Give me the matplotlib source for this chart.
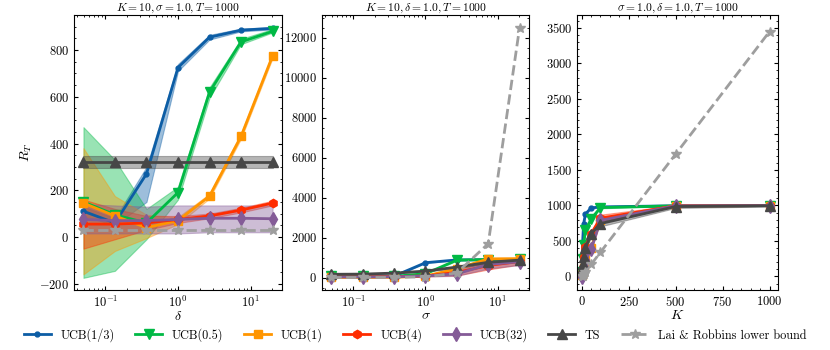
import numpy as np
import matplotlib
matplotlib.use("Agg")
import matplotlib.pyplot as plt

plt.rcParams['font.family'] = 'serif'
plt.rcParams['font.serif'] = ['cmr10', 'DejaVu Serif']
plt.rcParams['mathtext.fontset'] = 'cm'
plt.rcParams['axes.formatter.use_mathtext'] = True
plt.rcParams['font.size'] = 9
plt.rcParams['axes.unicode_minus'] = True

names = ["UCB(1/3)", "UCB(0.5)", "UCB(1)", "UCB(4)", "UCB(32)", "TS", "Lai & Robbins lower bound"]
colors = ['#0C5DA5', '#00B945', '#FF9500', '#FF2C00', '#845B97', '#474747', '#9e9e9e']
markers = ['.', 'v', 's', 'h', 'd', '^', '*']
msizes = [7, 7, 6, 6, 7, 7, 7]

# panel 1 : regret vs delta
delta = [0.0498, 0.135, 0.368, 1.0, 2.718, 7.389, 20.09]
d_mean = [
    [110, 60, 270, 725, 855, 885, 893],
    [150, 95, 60, 190, 620, 835, 880],
    [145, 90, 40, 70, 175, 430, 775],
    [55, 55, 60, 75, 90, 115, 145],
    [75, 70, 70, 75, 80, 80, 78],
    [320, 320, 320, 320, 320, 320, 320],
    [31, 31, 31, 31, 31, 31, 31],
]
d_lo = [
    [90, 50, 150, 710, 845, 880, 888],
    [-175, -145, -10, 160, 595, 825, 875],
    [-160, -60, -5, 55, 165, 420, 765],
    [-50, -10, 30, 60, 80, 105, 135],
    [15, 15, 15, 15, 20, 20, 20],
    [295, 295, 295, 295, 295, 295, 295],
    None,
]
d_hi = [
    [130, 80, 300, 740, 865, 892, 898],
    [470, 330, 120, 215, 640, 848, 890],
    [380, 175, 95, 85, 185, 445, 785],
    [160, 120, 90, 90, 100, 125, 155],
    [140, 135, 130, 135, 135, 135, 135],
    [345, 345, 345, 345, 345, 345, 345],
    None,
]

# panel 2 : regret vs sigma
sigma = [0.0498, 0.135, 0.368, 1.0, 2.718, 7.389, 20.09]
s_mean = [
    [60, 60, 70, 740, 880, 890, 895],
    [60, 60, 60, 190, 870, 900, 905],
    [10, 10, 15, 70, 440, 930, 940],
    [40, 40, 45, 75, 250, 600, 800],
    [30, 30, 35, 75, 180, 650, 790],
    [160, 170, 220, 320, 520, 760, 870],
    [0.08, 0.57, 4.2, 31, 229, 1690, 12500],
]
s_lo = [
    [40, 40, 50, 720, 860, 880, 885],
    [40, 40, 40, 160, 840, 880, 890],
    [0, 0, 0, 50, 380, 880, 880],
    [20, 20, 25, 50, 100, 400, 650],
    [10, 10, 15, 50, 80, 450, 620],
    [140, 150, 200, 295, 460, 700, 820],
    None,
]
s_hi = [
    [80, 80, 90, 760, 900, 900, 905],
    [80, 80, 80, 220, 900, 920, 920],
    [25, 25, 30, 90, 500, 980, 1000],
    [60, 60, 65, 100, 450, 850, 1000],
    [50, 50, 55, 100, 330, 850, 960],
    [180, 190, 240, 345, 580, 820, 920],
    None,
]

# panel 3 : regret vs K
arms = [2, 5, 10, 20, 50, 100, 500, 1000]
k_mean = [
    [110, 490, 740, 880, 965, 980, 995, 998],
    [60, 250, 450, 650, 810, 970, 995, 998],
    [20, 60, 120, 230, 400, 800, 995, 998],
    [40, 120, 270, 420, 600, 820, 995, 998],
    [-10, 50, 130, 230, 380, 790, 995, 998],
    [100, 180, 270, 400, 600, 745, 985, 995],
    [3.45, 13.8, 31, 66, 169, 342, 1722, 3447],
]
k_lo = [
    [90, 470, 725, 870, 955, 972, 990, 995],
    [40, 230, 430, 630, 790, 960, 990, 995],
    [0, 40, 100, 210, 380, 780, 990, 995],
    [20, 100, 250, 400, 560, 780, 985, 995],
    [-30, 30, 110, 210, 360, 770, 985, 995],
    [80, 160, 250, 370, 560, 705, 965, 985],
    None,
]
k_hi = [
    [130, 510, 755, 890, 975, 988, 1000, 1000],
    [80, 270, 470, 670, 830, 980, 1000, 1000],
    [40, 80, 140, 250, 420, 820, 1000, 1000],
    [60, 140, 290, 440, 640, 870, 1005, 1000],
    [10, 70, 150, 250, 400, 810, 1005, 1000],
    [120, 200, 290, 430, 640, 785, 1005, 1005],
    None,
]

fig = plt.figure(figsize=(8.3, 3.5), dpi=100)
W, H = 830, 350
boxes = [(74, 282), (322, 529), (577, 778)]
axes = [fig.add_axes([l / W, 60 / H, (r - l) / W, 275 / H]) for l, r in boxes]

panels = [
    (delta, d_mean, d_lo, d_hi, r'$\delta$', r'$K=10, \sigma=1.0, T=1000$', True),
    (sigma, s_mean, s_lo, s_hi, r'$\sigma$', r'$K=10, \delta=1.0, T=1000$', True),
    (arms, k_mean, k_lo, k_hi, r'$K$', r'$\sigma=1.0, \delta=1.0, T=1000$', False),
]

for ax, (x, mean, lo, hi, xlab, title, logx) in zip(axes, panels):
    for i in range(7):
        if lo[i] is not None:
            ax.fill_between(x, lo[i], hi[i], color=colors[i], alpha=0.4, lw=0.8)
    for i in range(7):
        ls = '--' if i == 6 else '-'
        ax.plot(x, mean[i], ls, color=colors[i], marker=markers[i], ms=msizes[i],
                lw=2, label=names[i])
    if logx:
        ax.set_xscale('log')
    ax.set_xlabel(xlab, labelpad=0, fontsize=10)
    ax.set_title(title, fontsize=8.3, pad=3)
    ax.tick_params(which='both', direction='in', top=True, right=True)
    ax.tick_params(which='major', length=3)
    ax.tick_params(which='minor', length=1.5)
    ax.minorticks_on()

axes[0].set_ylabel(r'$R_T$', fontsize=10)
axes[0].set_ylim(-227, 950)
axes[0].set_yticks([-200, 0, 200, 400, 600, 800])
axes[1].set_yticks([0, 2000, 4000, 6000, 8000, 10000, 12000])
axes[2].set_xlim(-25, 1045)
axes[2].set_ylim(-190, 3680)

handles, labels = axes[0].get_legend_handles_labels()
fig.legend(handles, labels, loc='center', bbox_to_anchor=(0.5, 15 / H), ncol=7,
           frameon=False, fontsize=8.8, handlelength=2.2, handletextpad=0.8,
           columnspacing=1.7, borderaxespad=0, borderpad=0.2)

fig.savefig('out.png', dpi=100)
